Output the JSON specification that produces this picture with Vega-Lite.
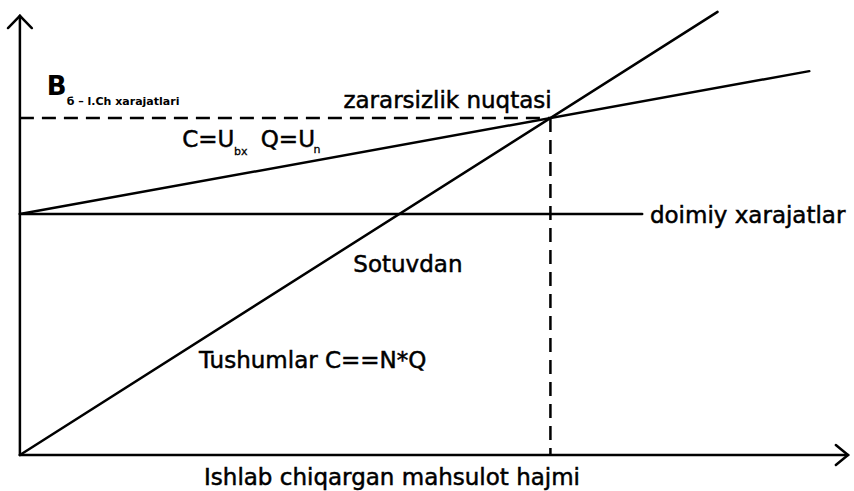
{
  "$schema": "https://vega.github.io/schema/vega-lite/v6.json",
  "width": 854,
  "height": 491,
  "padding": 0,
  "autosize": {"type": "fit", "contains": "padding"},
  "background": "white",
  "config": {"view": {"stroke": null}},
  "datasets": {
    "solid": [
      {"seg": "yaxis", "o": 1, "q": 0, "c": 0},
      {"seg": "yaxis", "o": 2, "q": 0, "c": 130.3},
      {"seg": "yarrow", "o": 1, "q": -2.25, "c": 126.7},
      {"seg": "yarrow", "o": 2, "q": 0, "c": 130.3},
      {"seg": "yarrow", "o": 3, "q": 2.25, "c": 126.7},
      {"seg": "xaxis", "o": 1, "q": 0, "c": 0},
      {"seg": "xaxis", "o": 2, "q": 156.1, "c": 0},
      {"seg": "xarrow", "o": 1, "q": 153.8, "c": 2.97},
      {"seg": "xarrow", "o": 2, "q": 156.1, "c": 0},
      {"seg": "xarrow", "o": 3, "q": 153.8, "c": -2.97},
      {"seg": "fixed", "o": 1, "q": 0, "c": 71.5},
      {"seg": "fixed", "o": 2, "q": 117.3, "c": 71.5},
      {"seg": "total", "o": 1, "q": 0, "c": 71.5},
      {"seg": "total", "o": 2, "q": 148.8, "c": 113.9},
      {"seg": "revenue", "o": 1, "q": 0, "c": 0},
      {"seg": "revenue", "o": 2, "q": 131.5, "c": 131.5}
    ],
    "dashed": [
      {"seg": "h", "o": 1, "q": 0, "c": 100},
      {"seg": "h", "o": 2, "q": 100, "c": 100},
      {"seg": "v", "o": 1, "q": 100, "c": 100},
      {"seg": "v", "o": 2, "q": 100, "c": 0}
    ],
    "labels": [
      {"label": "zararsizlik nuqtasi", "q": 60.98, "c": 102.97},
      {"label": "doimiy xarajatlar", "q": 118.76, "c": 68.84},
      {"label": "Sotuvdan", "q": 62.85, "c": 54.3},
      {"label": "Tushumlar C==N*Q", "q": 33.77, "c": 25.82},
      {"label": "Ishlab chiqargan mahsulot hajmi", "q": 34.71, "c": -8.9},
      {"label": "C=U", "q": 30.58, "c": 91.39},
      {"label": "Q=U", "q": 45.4, "c": 91.39}
    ],
    "subs": [
      {"label": "bx", "q": 40.34, "c": 89.02},
      {"label": "n", "q": 55.35, "c": 89.61}
    ],
    "bsub": [
      {"label": "б – l.Ch xarajatlari", "q": 8.82, "c": 103.86}
    ],
    "bbig": [
      {"label": "B", "q": 5.07, "c": 106.82}
    ]
  },
  "layer": [
    {
      "data": {"name": "solid"},
      "mark": {"type": "line", "color": "black", "strokeWidth": 2.5, "strokeCap": "round", "strokeJoin": "miter"},
      "encoding": {
        "x": {"field": "q", "type": "quantitative", "scale": {"domain": [-3.752, 156.47], "nice": false, "zero": false}, "axis": null},
        "y": {"field": "c", "type": "quantitative", "scale": {"domain": [-10.68, 135.01], "nice": false, "zero": false}, "axis": null},
        "detail": {"field": "seg"},
        "order": {"field": "o"}
      }
    },
    {
      "data": {"name": "dashed"},
      "mark": {"type": "line", "color": "black", "strokeWidth": 2.5, "strokeDash": [14, 8]},
      "encoding": {
        "x": {"field": "q", "type": "quantitative"},
        "y": {"field": "c", "type": "quantitative"},
        "detail": {"field": "seg"},
        "order": {"field": "o"}
      }
    },
    {
      "data": {"name": "labels"},
      "mark": {"type": "text", "font": "DejaVu Sans", "fontSize": 23, "align": "left", "baseline": "alphabetic", "color": "black", "stroke": "black", "strokeWidth": 0.5},
      "encoding": {
        "x": {"field": "q", "type": "quantitative"},
        "y": {"field": "c", "type": "quantitative"},
        "text": {"field": "label"}
      }
    },
    {
      "data": {"name": "subs"},
      "mark": {"type": "text", "font": "DejaVu Sans", "fontSize": 11, "align": "left", "baseline": "alphabetic", "color": "black", "stroke": "black", "strokeWidth": 0.3},
      "encoding": {
        "x": {"field": "q", "type": "quantitative"},
        "y": {"field": "c", "type": "quantitative"},
        "text": {"field": "label"}
      }
    },
    {
      "data": {"name": "bsub"},
      "mark": {"type": "text", "font": "DejaVu Sans", "fontSize": 11, "fontWeight": "bold", "align": "left", "baseline": "alphabetic", "color": "black"},
      "encoding": {
        "x": {"field": "q", "type": "quantitative"},
        "y": {"field": "c", "type": "quantitative"},
        "text": {"field": "label"}
      }
    },
    {
      "data": {"name": "bbig"},
      "mark": {"type": "text", "font": "DejaVu Sans", "fontSize": 26, "fontWeight": "bold", "align": "left", "baseline": "alphabetic", "color": "black"},
      "encoding": {
        "x": {"field": "q", "type": "quantitative"},
        "y": {"field": "c", "type": "quantitative"},
        "text": {"field": "label"}
      }
    }
  ]
}
